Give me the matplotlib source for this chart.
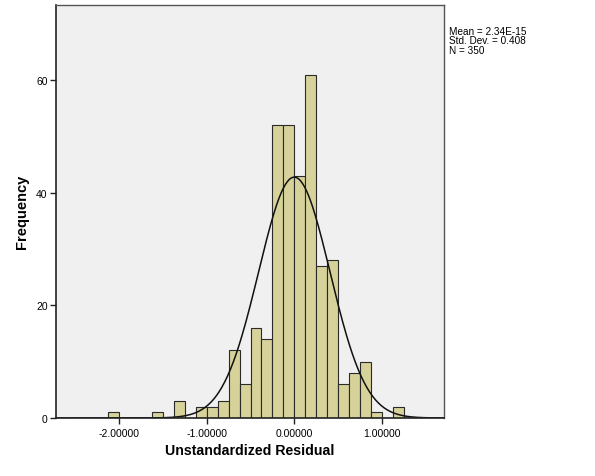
import matplotlib
import numpy as np

matplotlib.use("Agg")
import matplotlib.pyplot as plt

# histogram of unstandardized residuals (bin width 0.125, left edges)
bin_left = [-2.125, -2.0, -1.875, -1.75, -1.625, -1.5, -1.375, -1.25,
            -1.125, -1.0, -0.875, -0.75, -0.625, -0.5, -0.375, -0.25,
            -0.125, 0.0, 0.125, 0.25, 0.375, 0.5, 0.625, 0.75,
            0.875, 1.0, 1.125]
counts = [1, 0, 0, 0, 1, 0, 3, 0,
          2, 2, 3, 12, 6, 16, 14, 52,
          52, 43, 61, 27, 28, 6, 8, 10,
          1, 0, 2]
bin_width = 0.125
mean = 2.34e-15
std_dev = 0.408
n_obs = 350
x_ticks = [-2.0, -1.0, 0.0, 1.0]
y_ticks = [0, 20, 40, 60]

plt.rcParams["font.family"] = ["Liberation Sans", "DejaVu Sans"]

fig = plt.figure(figsize=(5.95, 4.77), dpi=100)
ax = fig.add_axes([0.0941, 0.1216, 0.6526, 0.8664])
ax.set_facecolor("#f0f0f0")

ax.bar(bin_left, counts, width=bin_width, align="edge",
       color="#d6d29a", edgecolor="#2a2a2a", linewidth=0.8)

xs = np.linspace(-2.72, 1.72, 400)
curve = n_obs * bin_width / (std_dev * np.sqrt(2 * np.pi)) * np.exp(-0.5 * ((xs - mean) / std_dev) ** 2)
ax.plot(xs, curve, color="#111111", linewidth=1.1)

ax.set_xlim(-2.723, 1.714)
ax.set_ylim(0, 73.4)
ax.set_xticks(x_ticks)
ax.set_xticklabels([f"{t:.5f}" for t in x_ticks])
ax.set_yticks(y_ticks)
ax.tick_params(axis="both", direction="out", length=4, width=1, labelsize=7.5,
               color="#222222", pad=2)
ax.tick_params(axis="x", pad=3)
for side in ["left", "bottom"]:
    ax.spines[side].set_color("#222222")
    ax.spines[side].set_linewidth(1.2)
for side in ["top", "right"]:
    ax.spines[side].set_color("#555555")
    ax.spines[side].set_linewidth(1.0)

ax.set_xlabel("Unstandardized Residual", fontsize=10.2, fontweight="bold", labelpad=4)
ax.set_ylabel("Frequency", fontsize=10.5, fontweight="bold", labelpad=5)

fig.text(0.7546, 0.9434, f"Mean = 2.34E-15\nStd. Dev. = {std_dev:.3f}\nN = {n_obs}",
         fontsize=7.2, va="top", ha="left", linespacing=0.93)

fig.savefig("out.png", dpi=100)
